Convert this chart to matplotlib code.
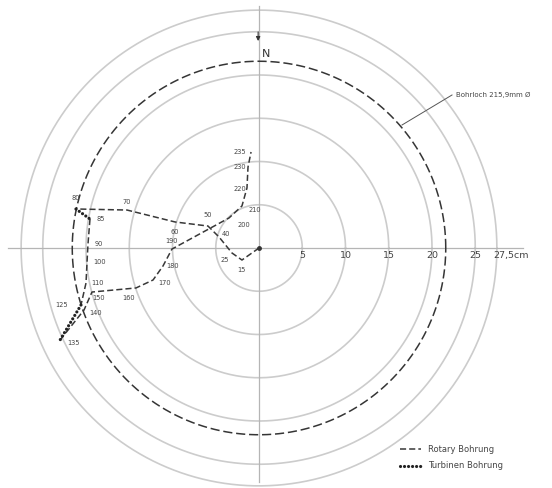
import matplotlib
matplotlib.use("Agg")
import matplotlib.pyplot as plt
import numpy as np

# depth stations along the borehole (m) and horizontal offset from the start (cm)
depths = [0, 15, 25, 40, 50, 60, 70, 80, 85, 90, 100, 110, 125, 135, 140,
          150, 160, 170, 180, 190, 200, 210, 220, 230, 235]
east = [0.0, -1.97, -3.12, -4.62, -5.90, -9.71, -15.26, -21.16, -19.54,
        -19.77, -19.88, -20.00, -20.58, -23.00, -20.23, -19.31, -14.22,
        -12.25, -11.10, -10.06, -3.47, -1.97, -1.39, -1.27, -0.92]
north = [0.0, -1.39, -0.58, 1.27, 2.54, 3.01, 4.39, 4.51, 3.35, 0.46,
         -1.62, -4.05, -6.59, -10.64, -7.17, -5.09, -4.62, -3.70, -2.08,
         -0.12, 3.47, 4.86, 6.94, 9.36, 11.10]
# depth intervals drilled with the turbine
turbine_runs = [(80, 85), (125, 135)]

# label offsets in points (dx, dy) for each depth label
label_offsets = [None, (0, -7), (-5, -5), (5, 2), (0, 8), (0, -7), (0, 6),
                 (0, 8), (8, 0), (8, 0), (9, 0), (8, 0), (-14, 0), (10, -2),
                 (8, -2), (5, -4), (-5, -7), (8, -2), (7, 0), (0, 6),
                 (11, -5), (9, -3), (-5, -1), (-6, 0), (-8, 0)]

rings = [5, 10, 15, 20, 25, 27.5]
ring_labels = ["5", "10", "15", "20", "25", "27,5cm"]
bore_radius = 21.59

SCALE = 8.65  # px per cm in the original drawing
CX, CY = 259, 248

ROTARY = dict(color="#383838", lw=1.1, ls=(0, (4, 2)))
TURBINE = dict(color="#222222", lw=2.3, ls=(0, (0.01, 1.25)),
               dash_capstyle="round")

fig = plt.figure(figsize=(5.52, 4.88), dpi=100)
ax = fig.add_axes([0, 0, 1, 1])
ax.set_xlim(-CX / SCALE, (552 - CX) / SCALE)
ax.set_ylim(-(488 - CY) / SCALE, CY / SCALE)
ax.axis("off")

t = np.linspace(0, 2 * np.pi, 400)
for r in rings:
    ax.plot(r * np.cos(t), r * np.sin(t), color="#cccccc", lw=1.2, zorder=1)
ax.plot(bore_radius * np.cos(t), bore_radius * np.sin(t), color="#353535",
        lw=1.1, ls=(0, (6, 2.5)), zorder=2)

# axes cross
ax.plot([-29.0, 30.5], [0, 0], color="#b5b5b5", lw=0.9, zorder=1)
ax.plot([0, 0], [-27.0, 28.0], color="#b5b5b5", lw=0.9, zorder=1)

for r, lab in zip(rings, ring_labels):
    ha = "left" if lab.endswith("cm") else "center"
    xx = r - 0.4 if ha == "left" else r
    ax.text(xx, -0.35, lab, ha=ha, va="top", fontsize=6.8, color="#444444")

# north arrow
ax.annotate("", xy=(-0.1, 23.6), xytext=(-0.1, 25.3),
            arrowprops=dict(arrowstyle="-|>", color="#333333", lw=0.8,
                            mutation_scale=6))
ax.text(0.35, 21.8, "N", fontsize=8, color="#333333", ha="left", va="bottom")

# borehole path, split into runs by drilling method
def is_turbine(d0, d1):
    return any(a <= d0 and d1 <= b for a, b in turbine_runs)

runs = []
cur = [0]
cur_t = is_turbine(depths[0], depths[1])
for i in range(1, len(depths)):
    seg_t = is_turbine(depths[i - 1], depths[i])
    if seg_t != cur_t:
        runs.append((cur_t, cur))
        cur = [i - 1]
        cur_t = seg_t
    cur.append(i)
runs.append((cur_t, cur))

for turb, idx in runs:
    xs = [east[i] for i in idx]
    ys = [north[i] for i in idx]
    if turb:
        ax.plot(xs, ys, zorder=4, **TURBINE)
    else:
        ax.plot(xs, ys, zorder=3, **ROTARY)

ax.plot(0, 0, "o", color="#333333", ms=2.5, zorder=5)

for d, x, y, off in zip(depths, east, north, label_offsets):
    if off is None:
        continue
    ax.annotate(str(d), (x, y), xytext=off, textcoords="offset points",
                ha="center", va="center", fontsize=4.8, color="#444444")

# borehole label with leader
bx, by = (402 - CX) / SCALE, (CY - 125) / SCALE
ax.plot([bx, (452 - CX) / SCALE], [by, (CY - 95) / SCALE], color="#555555",
        lw=0.7)
ax.text((456 - CX) / SCALE, (CY - 95) / SCALE, "Bohrloch 215,9mm Ø",
        fontsize=5, color="#444444", va="center", ha="left")

# legend
ly1, ly2 = (CY - 449) / SCALE, (CY - 466) / SCALE
lx0, lx1 = (400 - CX) / SCALE, (421 - CX) / SCALE
ax.plot([lx0, lx1], [ly1, ly1], **ROTARY)
ax.plot([lx0, lx1], [ly2, ly2], **TURBINE)
ax.text((428 - CX) / SCALE, ly1, "Rotary Bohrung", fontsize=6, color="#444444",
        va="center")
ax.text((428 - CX) / SCALE, ly2, "Turbinen Bohrung", fontsize=6,
        color="#444444", va="center")

fig.savefig("out.png", dpi=100)
